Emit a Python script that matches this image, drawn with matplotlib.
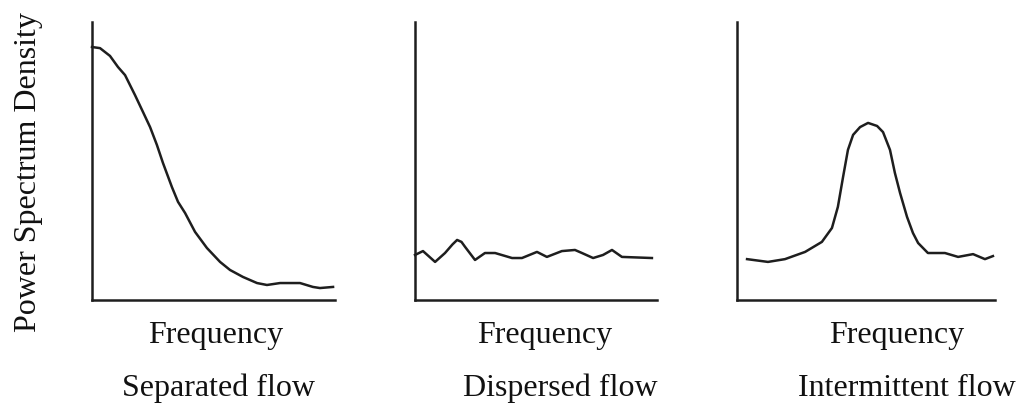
import matplotlib
matplotlib.use("Agg")
import matplotlib.pyplot as plt

# ---- data (arbitrary units, 0-100 on both axes) ----
sep_x = [0, 3.3, 7.4, 10.7, 13.6, 17.7, 21.0, 23.9, 26.7, 29.2, 32.9, 35.4, 38.3, 42.4, 47.3, 52.7, 56.8, 62.1, 67.9, 72.0, 77.4, 85.6, 90.9, 93.8, 99.2]
sep_y = [91.0, 90.6, 87.8, 83.8, 80.9, 73.7, 67.6, 62.2, 55.8, 49.3, 40.6, 35.3, 31.3, 24.5, 18.7, 13.7, 10.8, 8.3, 6.1, 5.4, 6.1, 6.1, 4.7, 4.3, 4.7]

dis_x = [0, 3.3, 8.3, 12.4, 15.5, 17.4, 19.2, 20.7, 24.8, 28.9, 33.1, 40.1, 44.2, 50.4, 54.5, 60.7, 66.1, 69.0, 73.6, 77.7, 81.4, 85.5, 97.9]
dis_y = [16.2, 17.6, 13.7, 16.9, 20.0, 21.6, 20.9, 19.1, 14.4, 16.9, 16.9, 15.1, 15.1, 17.3, 15.5, 17.6, 18.0, 16.9, 15.1, 16.2, 18.0, 15.5, 15.1]

int_x = [3.9, 12.0, 18.6, 26.4, 32.9, 36.8, 39.1, 41.1, 43.0, 45.0, 47.7, 50.8, 54.3, 56.6, 59.3, 61.2, 63.2, 65.9, 68.2, 70.2, 74.0, 80.6, 85.7, 91.5, 96.1, 99.2]
int_y = [14.7, 13.7, 14.7, 17.3, 20.9, 25.9, 33.5, 44.2, 54.0, 59.4, 62.2, 63.7, 62.6, 60.4, 54.0, 45.7, 38.5, 29.9, 24.1, 20.5, 16.9, 16.9, 15.5, 16.5, 14.7, 15.8]

freq_label = "Frequency"
titles = ["Separated flow", "Dispersed flow", "Intermittent flow"]
ylabel = "Power Spectrum Density"

W, H = 1024, 405
fig = plt.figure(figsize=(W / 100, H / 100), dpi=100)
plt.rcParams['font.family'] = ['Liberation Serif', 'DejaVu Serif']

col = "#1e1e1e"
panels = [
    (92, 243, sep_x, sep_y, 216, 218),
    (415, 242, dis_x, dis_y, 545, 560),
    (737, 258, int_x, int_y, 897, 907),
]
top, bottom = 22, 300
for (left, width, xs, ys, fx, tx), title in zip(panels, titles):
    ax = fig.add_axes([left / W, (H - bottom) / H, width / W, (bottom - top) / H])
    ax.plot(xs, ys, color=col, lw=1.8, clip_on=False, solid_joinstyle='round')
    ax.set_xlim(0, 100)
    ax.set_ylim(0, 100)
    ax.set_xticks([])
    ax.set_yticks([])
    for s in ("top", "right"):
        ax.spines[s].set_visible(False)
    for s in ("left", "bottom"):
        ax.spines[s].set_linewidth(1.8)
        ax.spines[s].set_color(col)
    fig.text(fx / W, 1 - 336 / H, freq_label, ha="center", va="center", fontsize=23, color="#111111")
    fig.text(tx / W, 1 - 388 / H, title, ha="center", va="center", fontsize=23, color="#111111")

fig.text(29 / W, 1 - 172 / H, ylabel, rotation=90, ha="center", va="center", fontsize=23, color="#111111")

fig.savefig("out.png", dpi=100, facecolor="white")
